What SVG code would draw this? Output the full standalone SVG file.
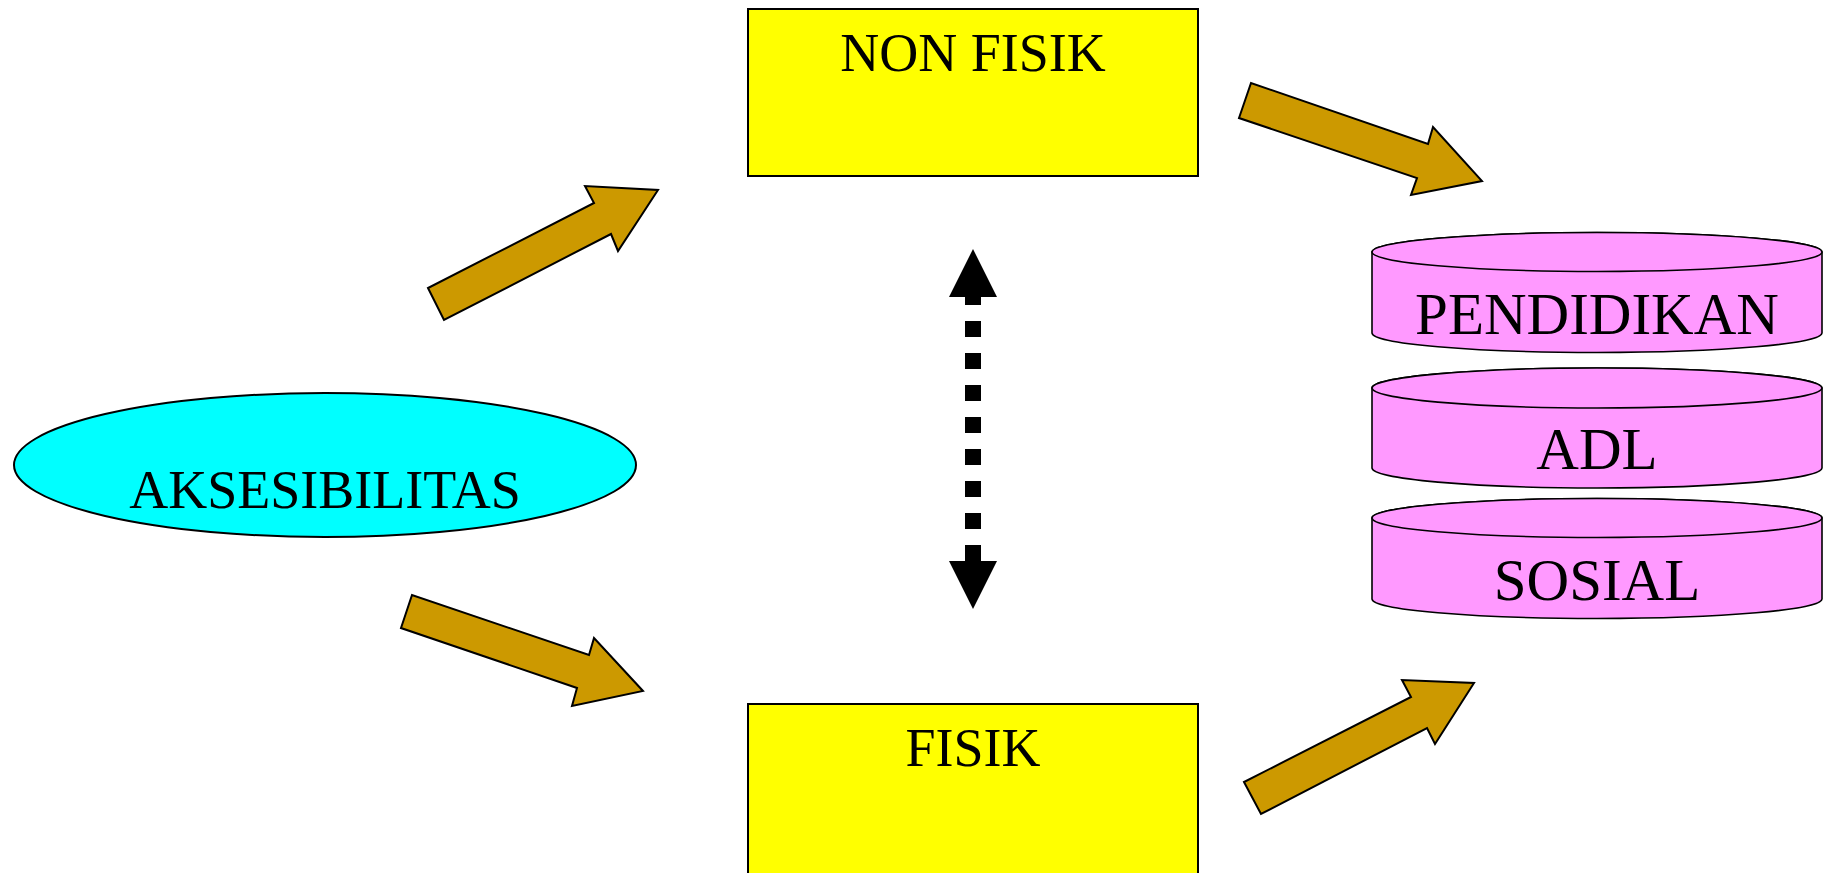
<svg xmlns="http://www.w3.org/2000/svg" width="1823" height="873" viewBox="0 0 1823 873">
<style>
.bg{fill:#ffffff}
.lbl{font-family:"Liberation Serif","Times New Roman",serif;font-size:54px;fill:#000;text-anchor:middle}
.cl{font-size:59px}
.box{fill:#ffff00;stroke:#000;stroke-width:2}
.oval{fill:#00ffff;stroke:#000;stroke-width:2}
.cyl{fill:#ff99ff;stroke:#000;stroke-width:1.6}
.blk{fill:#cc9900;stroke:#000;stroke-width:2;stroke-linejoin:miter}
.dash{stroke:#000;stroke-width:16;stroke-dasharray:16 16;stroke-dashoffset:8;fill:none}
</style>
<defs>
<marker id="head" markerUnits="userSpaceOnUse" markerWidth="50" markerHeight="50" refX="0" refY="25" viewBox="0 0 50 50" orient="auto-start-reverse">
<path d="M0,1 L48,25 L0,49 Z" fill="#000"/>
</marker>
</defs>
<rect class="bg" x="0" y="0" width="1823" height="873"/>
<g id="connectors">
<polygon class="blk" points="428,288 444,320 611,234 618,251 658,190 585,186 594,203"/>
<polygon class="blk" points="412,595 401,628 577,688 572,706 643,691 594,638 589,655"/>
<polygon class="blk" points="1251,83 1239,118 1417,178 1411,195 1482,181 1433,127 1428,144"/>
<polygon class="blk" points="1244,782 1261,814 1427,728 1435,744 1474,683 1402,680 1411,697"/>
<line class="dash" x1="973" y1="297" x2="973" y2="561" marker-start="url(#head)" marker-end="url(#head)"/>
</g>
<g id="aksesibilitas">
<ellipse class="oval" cx="325" cy="465" rx="311" ry="72"/>
<text class="lbl" x="325" y="508">AKSESIBILITAS</text>
</g>
<g id="non-fisik">
<rect class="box" x="748" y="9" width="450" height="167"/>
<text class="lbl" x="973" y="71">NON FISIK</text>
</g>
<g id="fisik">
<rect class="box" x="748" y="704" width="450" height="175"/>
<text class="lbl" x="973" y="766">FISIK</text>
</g>
<g id="pendidikan">
<path class="cyl" d="M1372,252 L1372,333 A225,19.5 0 0 0 1822,333 L1822,252 A225,19.5 0 0 0 1372,252 Z"/>
<ellipse class="cyl" cx="1597" cy="252" rx="225" ry="19.5"/>
<text class="lbl cl" x="1597" y="334">PENDIDIKAN</text>
</g>
<g id="adl">
<path class="cyl" d="M1372,388 L1372,468 A225,20 0 0 0 1822,468 L1822,388 A225,20 0 0 0 1372,388 Z"/>
<ellipse class="cyl" cx="1597" cy="388" rx="225" ry="20"/>
<text class="lbl cl" x="1597" y="469">ADL</text>
</g>
<g id="sosial">
<path class="cyl" d="M1372,518 L1372,599 A225,19.5 0 0 0 1822,599 L1822,518 A225,19.5 0 0 0 1372,518 Z"/>
<ellipse class="cyl" cx="1597" cy="518" rx="225" ry="19.5"/>
<text class="lbl cl" x="1597" y="600">SOSIAL</text>
</g>
</svg>
